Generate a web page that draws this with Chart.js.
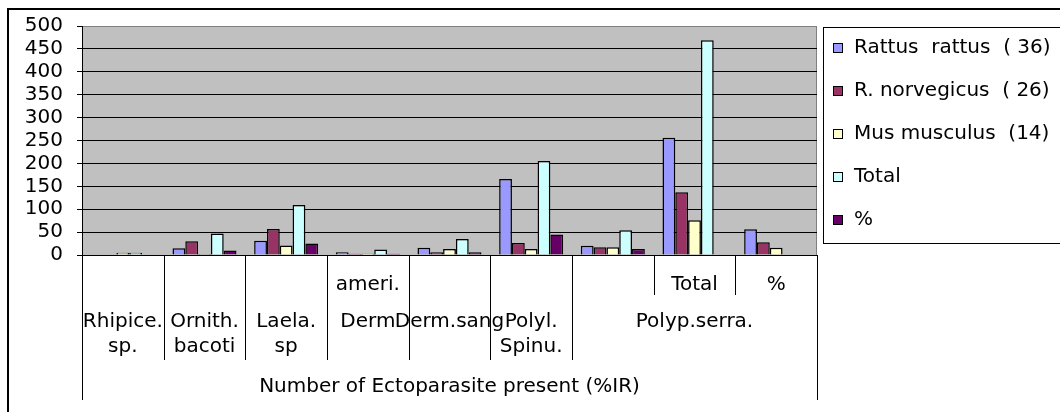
<!DOCTYPE html>
<html>
<head>
<meta charset="utf-8">
<title>Number of Ectoparasite present</title>
<script src="https://cdn.jsdelivr.net/npm/chart.js@4.4.0/dist/chart.umd.min.js"></script>
<style>
    body { margin: 0; background: #fff; }
    canvas { display: block; }
</style>
</head>
<body>
<canvas id="ectoChart" width="1060" height="412"></canvas>
<script>
// Category axis, inner row (one label per category)
const subLabels = ['', '', '', 'ameri.', '', '', '', 'Total', '%'];
// Category axis, species row (each entry spans groupSpans[i] categories)
const groupLabels = [['Rhipice.', 'sp.'], ['Ornith.', 'bacoti'], ['Laela.', 'sp'], ['Derm'], ['Derm.sang'], ['Polyl.', 'Spinu.'], ['Polyp.serra.']];
const groupSpans = [1, 1, 1, 1, 1, 1, 3];
const axisTitle = 'Number of Ectoparasite present (%IR)';

// Series
const seriesNames = ['Rattus  rattus  ( 36)', 'R. norvegicus  ( 26)', 'Mus musculus  (14)', 'Total', '%'];
const seriesColors = ['#9999FF', '#993366', '#FFFFCC', '#CCFFFF', '#660066'];
const rattusRattus = [null, 15, 31, 6, 16, 166, 20, 256, 56];
const rNorvegicus = [null, 30, 57, 3, 6, 26, 17, 137, 28];
const musMusculus = [5, 2, 21, 3, 13, 13, 17, 76, 16];
const totalCounts = [5, 47, 109, 12, 35, 205, 54, 469, null];
const percentIR = [null, 10, 25, 3, 6, 45, 13, null, null];

// Value axis
const yMin = 0;
const yMax = 500;
const yStep = 50;

const FONT = 'DejaVu Sans';

// Grey plot area + Excel style multi-level category axis, legend and frame
const excelFrame = {
    id: 'excelFrame',
    beforeDraw(chart) {
        const { ctx, chartArea: a } = chart;
        ctx.save();
        ctx.fillStyle = '#C0C0C0';
        ctx.fillRect(a.left, a.top, a.right - a.left, a.bottom - a.top);
        ctx.strokeStyle = '#808080';
        ctx.lineWidth = 1;
        ctx.beginPath();
        ctx.moveTo(a.left, a.top + 0.5);
        ctx.lineTo(a.right - 0.5, a.top + 0.5);
        ctx.lineTo(a.right - 0.5, a.bottom);
        ctx.stroke();
        ctx.restore();
    },
    afterDraw(chart) {
        const { ctx } = chart;
        const x = chart.scales.x;
        const step = (x.right - x.left) / subLabels.length;
        const edge = i => Math.round(x.left + i * step) + 0.5;
        const top = x.top;

        ctx.save();
        ctx.strokeStyle = '#000';
        ctx.lineWidth = 1;

        // group boundaries
        const groupEdges = [0];
        groupSpans.forEach(s => groupEdges.push(groupEdges[groupEdges.length - 1] + s));

        for (let i = 0; i <= subLabels.length; i++) {
            let depth = 40;
            if (i === 0 || i === subLabels.length) depth = 145;
            else if (groupEdges.includes(i)) depth = 105;
            ctx.beginPath();
            ctx.moveTo(edge(i), top);
            ctx.lineTo(edge(i), top + depth);
            ctx.stroke();
        }

        ctx.fillStyle = '#000';
        ctx.font = `20px "${FONT}"`;
        ctx.textAlign = 'center';
        ctx.textBaseline = 'middle';

        // inner row
        subLabels.forEach((label, i) => {
            if (label) ctx.fillText(label, x.left + (i + 0.5) * step, top + 30);
        });

        // species row
        groupLabels.forEach((lines, g) => {
            const cx = x.left + (groupEdges[g] + groupSpans[g] / 2) * step;
            lines.forEach((line, k) => ctx.fillText(line, cx, top + 67 + k * 25));
        });

        // outer title row
        ctx.fillText(axisTitle, (x.left + x.right) / 2, top + 132);

        // legend
        ctx.strokeRect(823.5, 27.5, 300, 216);
        ctx.textAlign = 'left';
        chart.data.datasets.forEach((ds, i) => {
            const cy = 47 + i * 43;
            ctx.fillStyle = ds.backgroundColor;
            ctx.fillRect(833, cy - 4, 9, 9);
            ctx.strokeRect(833.5, cy - 3.5, 9, 9);
            ctx.fillStyle = '#000';
            ctx.fillText(ds.label, 854, cy + 1);
        });

        // chart frame
        ctx.lineWidth = 2;
        ctx.strokeRect(8, 9, 1100, 450);
        ctx.restore();
    }
};

const seriesData = [rattusRattus, rNorvegicus, musMusculus, totalCounts, percentIR];

const ctx = document.getElementById('ectoChart').getContext('2d');
new Chart(ctx, {
    type: 'bar',
    data: {
        labels: subLabels,
        datasets: seriesData.map((values, i) => ({
            label: seriesNames[i],
            data: values,
            backgroundColor: seriesColors[i],
            borderColor: '#000',
            borderWidth: 1.5,
            borderSkipped: 'start',
            categoryPercentage: 0.784,
            barPercentage: 1.0
        }))
    },
    options: {
        responsive: false,
        animation: false,
        devicePixelRatio: 1,
        layout: { padding: { left: 8, top: 25, right: 243, bottom: 0 } },
        plugins: {
            legend: { display: false },
            tooltip: { enabled: false }
        },
        scales: {
            x: {
                grid: { display: false },
                ticks: { display: false },
                border: { color: '#000' },
                afterFit: scale => { scale.height = 157; }
            },
            y: {
                min: yMin,
                max: yMax,
                ticks: {
                    stepSize: yStep,
                    autoSkip: false,
                    padding: 14,
                    color: '#000',
                    font: { family: FONT, size: 20 }
                },
                grid: {
                    color: c => (c.tick && c.tick.value === yMax ? '#808080' : '#000'),
                    tickColor: '#000',
                    tickLength: 5,
                    lineWidth: 1
                },
                border: { color: '#000' },
                afterFit: scale => { scale.width = 74; }
            }
        }
    },
    plugins: [excelFrame]
});
</script>
</body>
</html>
